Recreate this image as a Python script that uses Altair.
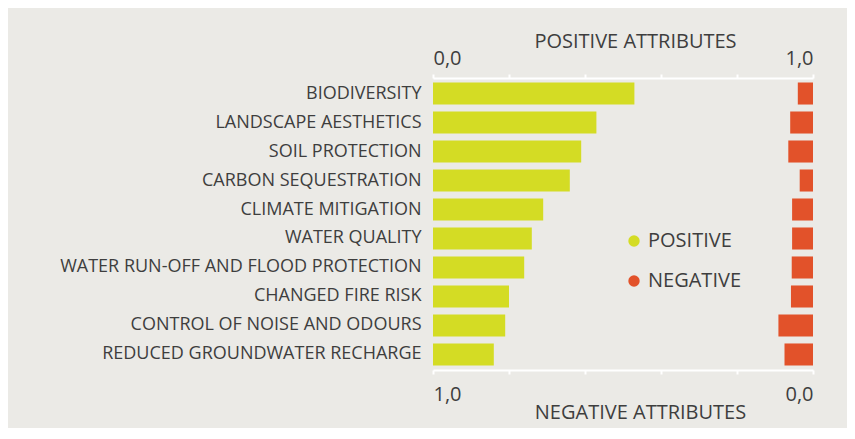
import altair as alt
import pandas as pd

categories = [
    "BIODIVERSITY",
    "LANDSCAPE AESTHETICS",
    "SOIL PROTECTION",
    "CARBON SEQUESTRATION",
    "CLIMATE MITIGATION",
    "WATER QUALITY",
    "WATER RUN-OFF AND FLOOD PROTECTION",
    "CHANGED FIRE RISK",
    "CONTROL OF NOISE AND ODOURS",
    "REDUCED GROUNDWATER RECHARGE",
]
positive = [0.53, 0.43, 0.39, 0.36, 0.29, 0.26, 0.24, 0.20, 0.19, 0.16]
negative = [0.04, 0.06, 0.065, 0.035, 0.055, 0.055, 0.056, 0.058, 0.091, 0.075]
tick_values = [0.0, 0.2, 0.4, 0.6, 0.8, 1.0]
types = ["POSITIVE", "NEGATIVE"]
colors = ["#d4dc24", "#e2522a"]

df = pd.DataFrame(
    {
        "category": categories * 2,
        "type": ["POSITIVE"] * len(categories) + ["NEGATIVE"] * len(categories),
        "value": positive + negative,
    }
)

FONT = "Open Sans"
TXT = "#3e3e3e"
label_expr = "datum.value == 0 ? '0,0' : (datum.value == 1 ? '1,0' : '')"

y_enc = alt.Y(
    "category:N",
    sort=categories,
    scale=alt.Scale(paddingInner=0.24, paddingOuter=0.155),
    axis=alt.Axis(
        title=None, domain=False, ticks=False, labelPadding=12,
        labelFontSize=18, labelColor=TXT, labelFont=FONT, labelLimit=500,
    ),
)
color_enc = alt.Color(
    "type:N",
    scale=alt.Scale(domain=types, range=colors),
    legend=alt.Legend(
        title=None, orient="none", legendX=191, legendY=153,
        symbolType="circle", symbolSize=130, symbolStrokeWidth=0,
        labelFontSize=20, labelFont=FONT, labelColor=TXT,
        rowPadding=20, padding=0, labelOffset=4,
    ),
)

pos = (
    alt.Chart(df)
    .transform_filter("datum.type == 'POSITIVE'")
    .mark_bar()
    .encode(
        x=alt.X(
            "value:Q",
            scale=alt.Scale(domain=[0, 1]),
            axis=alt.Axis(
                orient="top", values=tick_values, labelExpr=label_expr,
                title="POSITIVE ATTRIBUTES", titleX=202, titleY=-37,
                titleBaseline="middle",
                grid=False, domainColor="white", domainWidth=2,
                tickColor="white", tickWidth=2, tickSize=4,
                labelFontSize=20, labelFont=FONT, labelColor=TXT, labelPadding=6,
                titleFontSize=20, titleFont=FONT, titleColor=TXT, titleFontWeight="normal",
            ),
        ),
        y=y_enc,
        color=color_enc,
    )
)

neg = (
    alt.Chart(df)
    .transform_filter("datum.type == 'NEGATIVE'")
    .mark_bar()
    .encode(
        x=alt.X(
            "value:Q",
            scale=alt.Scale(domain=[0, 1], reverse=True),
            axis=alt.Axis(
                orient="bottom", values=tick_values, labelExpr=label_expr,
                title="NEGATIVE ATTRIBUTES", titleX=207, titleY=42,
                titleBaseline="middle",
                grid=False, domainColor="white", domainWidth=2,
                tickColor="white", tickWidth=2, tickSize=4,
                labelFontSize=20, labelFont=FONT, labelColor=TXT, labelPadding=10,
                titleFontSize=20, titleFont=FONT, titleColor=TXT, titleFontWeight="normal",
            ),
        ),
        y=y_enc,
        color=color_enc,
    )
)

chart = (
    alt.layer(pos, neg)
    .resolve_scale(x="independent")
    .properties(
        width=380,
        height=292,
        autosize="none",
        padding={"left": 425, "top": 70, "right": 34, "bottom": 58},
        background="#ebeae6",
    )
    .configure_view(stroke=None)
)

chart.save("out.html", embed_options={"renderer": "svg", "actions": False})
